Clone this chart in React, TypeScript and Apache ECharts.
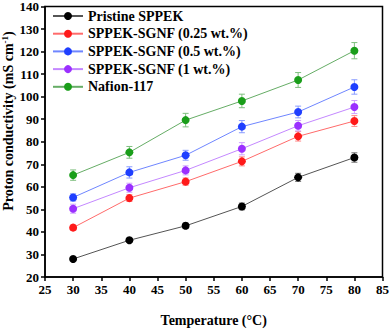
import React, { useEffect, useRef } from "react";
import * as echarts from "echarts";

const temperatures = [30, 40, 50, 60, 70, 80];
const seriesNames = [
  "Pristine SPPEK",
  "SPPEK-SGNF (0.25 wt.%)",
  "SPPEK-SGNF (0.5 wt.%)",
  "SPPEK-SGNF (1 wt.%)",
  "Nafion-117",
];
const pristine = [28.0, 36.3, 42.7, 51.3, 64.2, 73.0];
const sgnf025 = [41.9, 55.0, 62.3, 71.3, 82.4, 89.2];
const sgnf05 = [55.3, 66.4, 74.0, 86.7, 93.2, 104.3];
const sgnf1 = [50.3, 59.6, 67.3, 76.9, 87.1, 95.4];
const nafion = [65.2, 75.3, 89.6, 98.1, 107.4, 120.4];

const errPristine = [0.8, 1.0, 1.2, 1.5, 1.8, 2.1];
const err025 = [1.2, 1.5, 1.6, 2.0, 2.1, 2.4];
const err05 = [1.6, 2.5, 2.2, 2.7, 2.6, 3.2];
const err1 = [2.0, 2.0, 2.0, 2.7, 2.3, 2.9];
const errNafion = [2.3, 2.6, 3.0, 3.0, 3.3, 3.6];

const markerColors = ["#000000", "#ff1a1a", "#1f3fff", "#9b30ff", "#1a9e1a"];
const lineColors = ["#555555", "#ff6b6b", "#6f86ff", "#c488ff", "#66ad66"];
const errColors = ["#777777", "#ff8a8a", "#8a9cff", "#cfa0ff", "#7fbf7f"];

const FONT = "'Liberation Serif', 'Times New Roman', serif";

export default function App() {
  const ref = useRef<HTMLDivElement>(null);
  useEffect(() => {
    if (!ref.current) return;
    const chart = echarts.init(ref.current, null, { renderer: "svg" });
    const values = [pristine, sgnf025, sgnf05, sgnf1, nafion];
    const errs = [errPristine, err025, err05, err1, errNafion];

    const lineSeries = values.map((vals, i) => ({
      type: "line",
      name: seriesNames[i],
      data: temperatures.map((t, j) => [t, vals[j]]),
      symbol: "circle",
      symbolSize: 8,
      itemStyle: { color: markerColors[i] },
      lineStyle: { color: lineColors[i], width: 1 },
      z: 3,
    }));

    const errSeries = values.map((vals, i) => ({
      type: "custom",
      name: seriesNames[i] + " err",
      data: temperatures.map((t, j) => [t, vals[j] - errs[i][j], vals[j] + errs[i][j]]),
      encode: { x: 0, y: [1, 2] },
      z: 2,
      silent: true,
      renderItem: (params: any, api: any) => {
        const x = api.value(0);
        const lo = api.coord([x, api.value(1)]);
        const hi = api.coord([x, api.value(2)]);
        const hw = 3;
        const style = { stroke: errColors[i], lineWidth: 1 };
        return {
          type: "group",
          children: [
            { type: "line", shape: { x1: lo[0], y1: lo[1], x2: hi[0], y2: hi[1] }, style },
            { type: "line", shape: { x1: lo[0] - hw, y1: lo[1], x2: lo[0] + hw, y2: lo[1] }, style },
            { type: "line", shape: { x1: hi[0] - hw, y1: hi[1], x2: hi[0] + hw, y2: hi[1] }, style },
          ],
        };
      },
    }));

    chart.setOption({
      animation: false,
      grid: {
        left: 45,
        top: 6,
        width: 338,
        height: 279,
        show: true,
        borderColor: "#000",
        borderWidth: 1.5,
        backgroundColor: "transparent",
      },
      legend: {
        data: seriesNames,
        left: 52,
        top: 9,
        padding: 0,
        orient: "vertical",
        itemWidth: 30,
        itemHeight: 10,
        itemGap: 3.7,
        textStyle: {
          fontFamily: FONT,
          fontWeight: "bold",
          fontSize: 14,
          color: "#000",
          lineHeight: 14,
        },
      },
      xAxis: {
        type: "value",
        min: 25,
        max: 85,
        interval: 5,
        splitLine: { show: false },
        axisLine: { lineStyle: { color: "#000", width: 1.5 } },
        axisTick: { inside: false, length: 4, lineStyle: { color: "#000", width: 1.5 } },
        axisLabel: {
          fontFamily: FONT,
          fontWeight: "bold",
          fontSize: 13,
          color: "#000",
          margin: 6,
        },
        name: "Temperature (°C)",
        nameLocation: "middle",
        nameGap: 36,
        nameTextStyle: {
          fontFamily: FONT,
          fontWeight: "bold",
          fontSize: 14,
          color: "#000",
        },
      },
      yAxis: {
        type: "value",
        min: 20,
        max: 140,
        interval: 10,
        splitLine: { show: false },
        axisLine: { lineStyle: { color: "#000", width: 1.5 } },
        axisTick: { inside: false, length: 4, lineStyle: { color: "#000", width: 1.5 } },
        axisLabel: {
          fontFamily: FONT,
          fontWeight: "bold",
          fontSize: 13,
          color: "#000",
          margin: 6,
        },
      },
      graphic: [
        {
          type: "text",
          x: 8,
          y: 121,
          rotation: Math.PI / 2,
          style: {
            text: "{a|Proton conductivity (mS cm}{s|-1}{a|)}",
            rich: {
              a: { fontFamily: FONT, fontWeight: "bold", fontSize: 14, fill: "#000" },
              s: { fontFamily: FONT, fontWeight: "bold", fontSize: 9, fill: "#000", verticalAlign: "top", padding: [0, 0, 6, 0] },
            },
            align: "center",
            verticalAlign: "middle",
          },
        },
      ],
      series: [...errSeries, ...lineSeries],
    });
    return () => chart.dispose();
  }, []);
  return (
    <div
      ref={ref}
      style={{ position: "absolute", left: 0, top: 0, width: 392, height: 332 }}
    />
  );
}
